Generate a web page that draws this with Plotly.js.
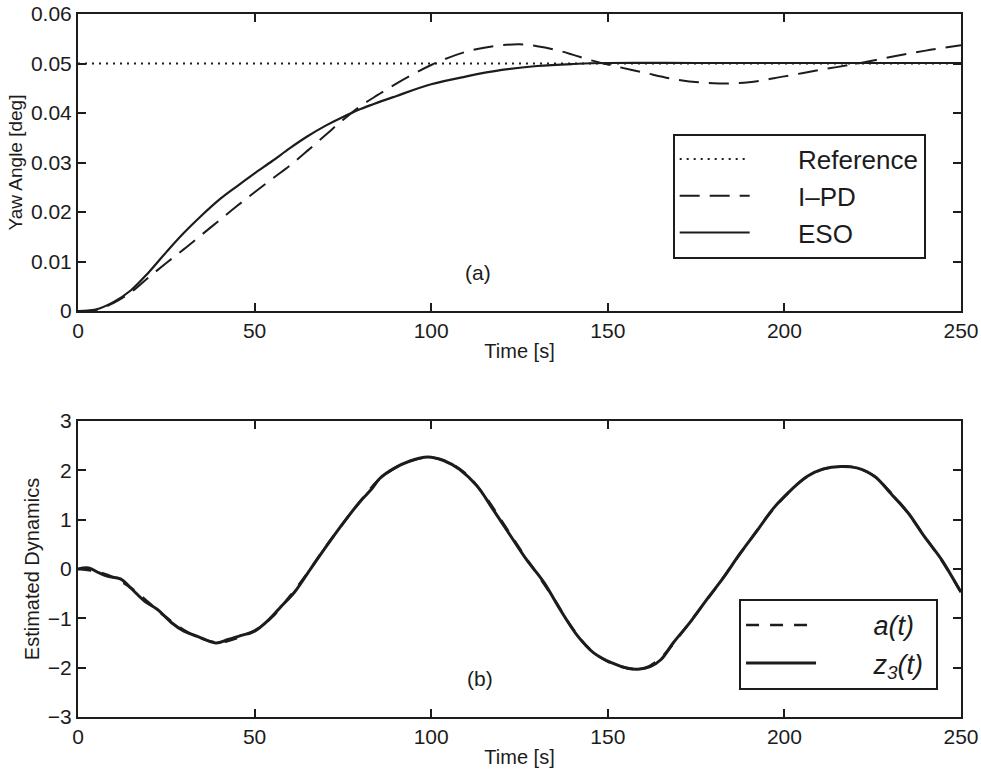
<!DOCTYPE html>
<html>
<head>
<meta charset="utf-8">
<script src="https://cdn.plot.ly/plotly-3.0.1.min.js"></script>
<style>html,body{margin:0;padding:0;background:#fff;}#chart{width:981px;height:778px;}</style>
</head>
<body>
<div id="chart"></div>
<script>
// ---- Top panel (a): yaw angle ----
var refT = [0, 250];
var refY = [0.05, 0.05];

var ipdT = [0, 5, 10, 15, 20, 25, 30, 35, 40, 45, 50, 55, 60, 65, 70, 75, 80, 85, 90, 95, 100, 105, 110, 115, 120, 125, 130, 135, 140, 145, 150, 160, 170, 180, 190, 200, 210, 220, 230, 240, 250];
var ipdY = [0, 0.0002, 0.0016, 0.0038, 0.0068, 0.0097, 0.0125, 0.0154, 0.0183, 0.0212, 0.0240, 0.0267, 0.0294, 0.0324, 0.0355, 0.0386, 0.0414, 0.0437, 0.0459, 0.0479, 0.0497, 0.0512, 0.0524, 0.0532, 0.0537, 0.0539, 0.0535, 0.0528, 0.0518, 0.0507, 0.0498, 0.0482, 0.0467, 0.0460, 0.0462, 0.0474, 0.0487, 0.0499, 0.0513, 0.0526, 0.0537];

var esoT = [0, 5, 10, 15, 20, 25, 30, 35, 40, 45, 50, 55, 60, 65, 70, 75, 80, 90, 100, 110, 120, 130, 140, 150, 175, 200, 225, 250];
var esoY = [0, 0.0003, 0.0018, 0.0042, 0.0078, 0.0119, 0.0158, 0.0193, 0.0225, 0.0252, 0.0278, 0.0303, 0.0329, 0.0353, 0.0374, 0.0392, 0.0408, 0.0434, 0.0458, 0.0474, 0.0487, 0.0495, 0.0499, 0.0501, 0.0501, 0.0501, 0.0501, 0.0501];

// ---- Bottom panel (b): estimated dynamics ----
var aT = [0, 5, 10, 15, 20, 25, 30, 35, 40, 45, 50, 55, 60, 65, 70, 75, 80, 85, 90, 95, 100, 105, 110, 115, 120, 125, 130, 135, 140, 145, 150, 155, 160, 165, 170, 175, 180, 185, 190, 195, 200, 205, 210, 215, 220, 225, 230, 235, 240, 245, 250];
var aY = [0, -0.05, -0.17, -0.38, -0.68, -0.98, -1.24, -1.41, -1.49, -1.40, -1.25, -0.97, -0.55, -0.08, 0.44, 0.92, 1.38, 1.80, 2.06, 2.21, 2.26, 2.16, 1.92, 1.50, 0.97, 0.42, -0.10, -0.63, -1.20, -1.63, -1.88, -2.00, -2.02, -1.80, -1.38, -0.91, -0.44, 0.06, 0.56, 1.05, 1.46, 1.80, 2.00, 2.08, 2.06, 1.90, 1.56, 1.13, 0.63, 0.12, -0.47];

var z3T = [0, 3, 6, 8.5, 12, 15, 19, 22.5, 26.5, 30, 34, 39, 42.5, 46, 50, 54, 57.5, 61.5, 66, 71, 75.5, 80, 83, 85.5, 89.5, 94, 99, 103.5, 108, 113, 117.5, 122.5, 127, 132, 136.5, 141.5, 146, 151, 155.5, 158.5, 162, 165, 168.5, 173.5, 178, 183, 187.5, 192.5, 197, 202, 206.5, 211, 216, 220.5, 225.5, 230, 235, 239.5, 244.5, 249, 250];
var z3Y = [0, 0.02, -0.08, -0.15, -0.2, -0.39, -0.66, -0.82, -1.09, -1.26, -1.37, -1.5, -1.43, -1.35, -1.26, -1.03, -0.76, -0.45, 0.02, 0.53, 0.97, 1.38, 1.61, 1.84, 2.04, 2.19, 2.27, 2.2, 2.02, 1.68, 1.21, 0.67, 0.19, -0.28, -0.82, -1.36, -1.7, -1.9, -2.01, -2.03, -1.98, -1.84, -1.5, -1.06, -0.62, -0.15, 0.32, 0.8, 1.24, 1.61, 1.88, 2.03, 2.08, 2.05, 1.88, 1.54, 1.14, 0.67, 0.19, -0.35, -0.47];

var xTicks = [0, 50, 100, 150, 200, 250];
var y1Ticks = [0, 0.01, 0.02, 0.03, 0.04, 0.05, 0.06];
var y1Labels = ['0', '0.01', '0.02', '0.03', '0.04', '0.05', '0.06'];
var y2Ticks = [-3, -2, -1, 0, 1, 2, 3];

var INK = '#1c1c1c';
var FONT = 'Liberation Sans, Arial, Helvetica, sans-serif';
var NB = '\u00a0';
var pad6 = NB + NB + NB + NB + NB + NB;

var traces = [
  {x: refT, y: refY, xaxis: 'x', yaxis: 'y', mode: 'lines', name: pad6 + 'Reference',
   line: {color: INK, width: 2, dash: '2px,5px'}, legend: 'legend'},
  {x: ipdT, y: ipdY, xaxis: 'x', yaxis: 'y', mode: 'lines', name: pad6 + 'I\u2013PD',
   line: {color: INK, width: 2, dash: '20px,10px', shape: 'spline'}, legend: 'legend'},
  {x: esoT, y: esoY, xaxis: 'x', yaxis: 'y', mode: 'lines', name: pad6 + 'ESO',
   line: {color: INK, width: 2.2, shape: 'spline'}, legend: 'legend'},
  {x: aT, y: aY, xaxis: 'x2', yaxis: 'y2', mode: 'lines', name: pad6 + NB + '<i>a(t)</i>',
   line: {color: INK, width: 2.5, dash: '13px,11px', shape: 'spline'}, legend: 'legend2'},
  {x: z3T, y: z3Y, xaxis: 'x2', yaxis: 'y2', mode: 'lines', name: pad6 + NB + '<i>z<sub>3</sub>(t)</i>' + NB,
   line: {color: INK, width: 3, shape: 'spline'}, legend: 'legend2'}
];

function xAxis(anchor) {
  return {
    anchor: anchor, domain: [0, 1], range: [0, 250], tickvals: xTicks,
    ticks: 'inside', ticklen: 8, tickwidth: 2, tickcolor: INK,
    showline: true, linewidth: 2, linecolor: INK, mirror: 'ticks',
    showgrid: false, zeroline: false,
    tickfont: {family: FONT, size: 21, color: INK},
    title: {text: 'Time [s]', standoff: 3, font: {family: FONT, size: 20, color: INK}}
  };
}

var layout = {
  width: 981, height: 778,
  margin: {l: 78, r: 20, t: 14, b: 61},
  paper_bgcolor: '#ffffff', plot_bgcolor: '#ffffff',
  font: {family: FONT, color: INK},
  showlegend: true,
  xaxis: xAxis('y'),
  xaxis2: xAxis('y2'),
  yaxis: {
    anchor: 'x', domain: [0.5775, 1], range: [0, 0.06], tickvals: y1Ticks, ticktext: y1Labels,
    ticks: 'inside', ticklen: 8, tickwidth: 2, tickcolor: INK,
    showline: true, linewidth: 2, linecolor: INK, mirror: 'ticks',
    showgrid: false, zeroline: false,
    tickfont: {family: FONT, size: 21, color: INK},
    title: {text: 'Yaw Angle [deg]', standoff: 3, font: {family: FONT, size: 19, color: INK}}
  },
  yaxis2: {
    anchor: 'x2', domain: [0, 0.421], range: [-3, 3], tickvals: y2Ticks,
    ticks: 'inside', ticklen: 8, tickwidth: 2, tickcolor: INK,
    showline: true, linewidth: 2, linecolor: INK, mirror: 'ticks',
    showgrid: false, zeroline: false,
    tickfont: {family: FONT, size: 21, color: INK},
    title: {text: 'Estimated Dynamics', standoff: 3, font: {family: FONT, size: 20, color: INK}}
  },
  legend: {
    x: 0.960, xanchor: 'right', y: 0.83, yanchor: 'top',
    bgcolor: '#ffffff', bordercolor: INK, borderwidth: 2,
    font: {family: FONT, size: 26, color: INK},
    itemwidth: 70, tracegroupgap: 0
  },
  legend2: {
    x: 0.974, xanchor: 'right', y: 0.168, yanchor: 'top',
    bgcolor: '#ffffff', bordercolor: INK, borderwidth: 2,
    font: {family: FONT, size: 27, color: INK},
    itemwidth: 70, tracegroupgap: 0
  },
  annotations: [
    {xref: 'paper', yref: 'paper', x: 0.453, y: 0.6316, text: '(a)', showarrow: false,
     font: {family: FONT, size: 21, color: INK}},
    {xref: 'paper', yref: 'paper', x: 0.455, y: 0.0356, text: '(b)', showarrow: false,
     font: {family: FONT, size: 21, color: INK}}
  ]
};

Plotly.newPlot('chart', traces, layout, {displayModeBar: false, staticPlot: true});
</script>
</body>
</html>
